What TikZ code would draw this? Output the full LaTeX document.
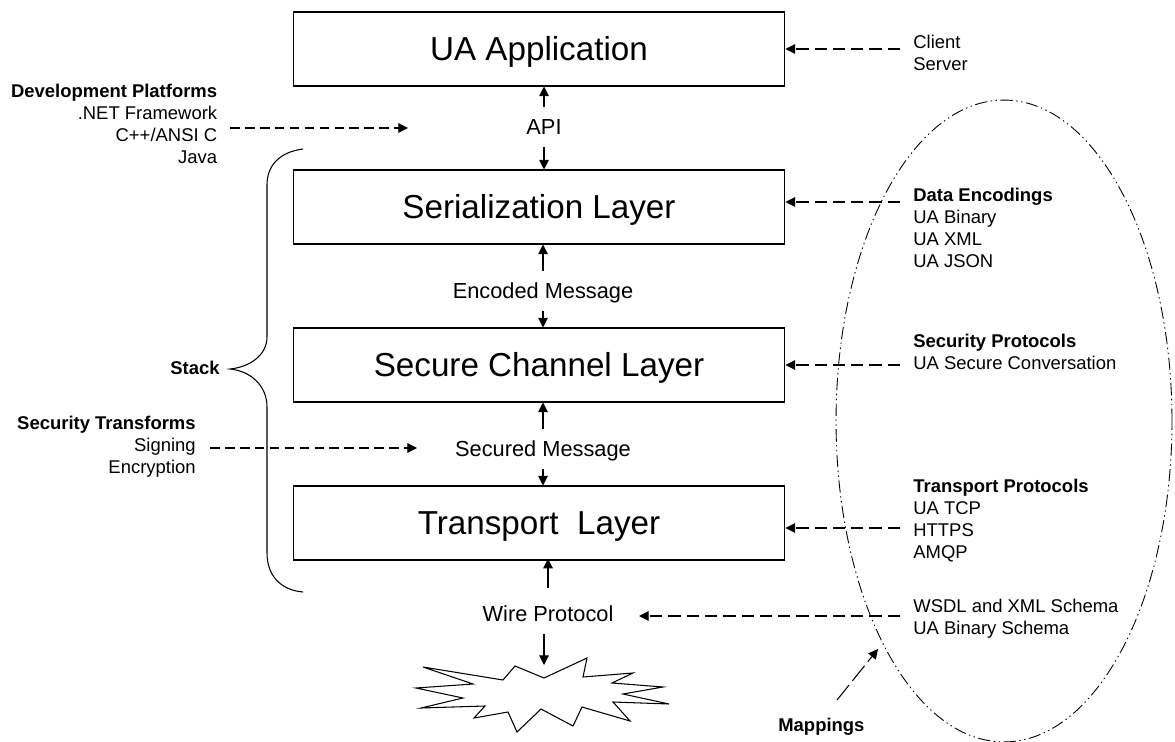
\documentclass[tikz,border=0pt]{standalone}
\usepackage{fontspec}
\setmainfont{Liberation Sans}
\usetikzlibrary{arrows.meta}
\tikzset{
  layerbox/.style={draw, line width=0.6pt, minimum width=9.84cm, minimum height=1.48cm, inner sep=0pt, text height=13.6pt, text depth=0pt, font=\fontsize{18.9}{22}\selectfont},
  msglabel/.style={minimum height=0.8cm, inner sep=0pt, text height=9pt, text depth=0pt, font=\fontsize{12.4}{15}\selectfont},
  leftlist/.style={anchor=east, align=right, inner sep=0pt, font=\fontsize{10.5}{12.5}\selectfont},
  rightlist/.style={anchor=west, align=left, inner sep=0pt, font=\fontsize{10.5}{12.5}\selectfont},
  flowarrow/.style={-{Triangle[length=5.5pt,width=5.5pt]}, line width=0.6pt},
  refarrow/.style={-{Triangle[length=5.5pt,width=5.5pt]}, line width=0.6pt, dash pattern=on 7pt off 3.4pt},
  mapoutline/.style={line width=0.5pt, dash pattern=on 7pt off 2pt on 0.8pt off 2pt on 0.8pt off 2pt}
}
\begin{document}
\begin{tikzpicture}[x=0.02cm, y=-0.02cm]
\useasboundingbox (0,0) rectangle (1175,742);
% stack of layers
\node[layerbox] (uaapp) at (539,49) {UA Application};
\node[layerbox] (serial) at (539,207) {Serialization Layer};
\node[layerbox] (secure) at (539,365) {Secure Channel Layer};
\node[layerbox] (transport) at (539,523) {Transport\ \ Layer};
% what passes between them
\node[msglabel] (api) at (544,127) {API};
\node[msglabel] (encoded) at (543,291) {Encoded Message};
\node[msglabel] (secured) at (543,449) {Secured Message};
\node[msglabel] (wire) at (548,614) {Wire Protocol};
\draw[flowarrow] (api.north) -- (uaapp.south -| api.north);
\draw[flowarrow] (api.south) -- (serial.north -| api.south);
\draw[flowarrow] (encoded.north) -- (serial.south -| encoded.north);
\draw[flowarrow] (encoded.south) -- (secure.north -| encoded.south);
\draw[flowarrow] (secured.north) -- (secure.south -| secured.north);
\draw[flowarrow] (secured.south) -- (transport.north -| secured.south);
\draw[flowarrow, shorten <=3pt, shorten >=-1pt] (wire.north) -- (transport.south -| wire.north);
% burst under the wire
\coordinate (burstin) at (544,665);
\draw[flowarrow] (wire.south -| burstin) -- (burstin);
\draw[line width=0.6pt, line join=miter] (423,667) -- (503,680) -- (515,666) -- (544,678) -- (587,658)
  -- (583,677) -- (633,673) -- (612,683) -- (663,687) -- (623,694) -- (669,704) -- (613,702)
  -- (630,721) -- (582,707) -- (573,726) -- (541,709) -- (517,732) -- (508,712) -- (474,718)
  -- (485,706) -- (421,708) -- (463,698) -- (416,688) -- (473,684) -- cycle;
% left hand lists
\node[leftlist] (platforms) at (217.5,124) {\textbf{Development Platforms}\\.NET Framework\\C++/ANSI C\\Java};
\node[leftlist] (transforms) at (196,447) {\textbf{Security Transforms}\\Signing\\Encryption};
\node[leftlist] (stack) at (220,368) {\textbf{Stack}};
\coordinate (platformsout) at (230,128);
\coordinate (apiin) at (408,128);
\coordinate (transformsout) at (210,448);
\coordinate (securedin) at (417,448);
\draw[refarrow, dash pattern=on 5.5pt off 3pt] (platformsout) -- (apiin);
\draw[refarrow, dash pattern=on 5.5pt off 3pt] (transformsout) -- (securedin);
\draw[line width=0.6pt] (303,149) .. controls (280,152) and (267,165) .. (267,185) -- (267,337)
  .. controls (267,355) and (250,367) .. (230,369) .. controls (250,371) and (267,385) .. (267,407)
  -- (267,553) .. controls (267,575) and (280,590) .. (303,592);
% right hand lists
\node[rightlist] (roles) at (913,53) {Client\\Server};
\node[rightlist] (encodings) at (913,228) {\textbf{Data Encodings}\\UA Binary\\UA XML\\UA JSON};
\node[rightlist] (secprotos) at (913,352) {\textbf{Security Protocols}\\UA Secure Conversation};
\node[rightlist] (transprotos) at (913,521) {\textbf{Transport Protocols}\\UA TCP\\HTTPS\\AMQP};
\node[rightlist] (schemas) at (913,619) {WSDL and XML Schema\\UA Binary Schema};
\coordinate (rolesout) at (900,49);
\coordinate (encodingsout) at (900,202);
\coordinate (secprotosout) at (900,365);
\coordinate (transprotosout) at (900,528);
\coordinate (schemasout) at (900,616);
\coordinate (wirein) at (639,616);
\draw[refarrow] (rolesout) -- (uaapp.east |- rolesout);
\draw[refarrow] (encodingsout) -- (serial.east |- encodingsout);
\draw[refarrow] (secprotosout) -- (secure.east |- secprotosout);
\draw[refarrow] (transprotosout) -- (transport.east |- transprotosout);
\draw[refarrow] (schemasout) -- (wirein);
% mappings outline
\draw[mapoutline] (1004,421) circle [x radius=3.36cm, y radius=6.42cm];
\node[rightlist] (mappings) at (778,727) {\textbf{Mappings}};
\coordinate (mapsout) at (837,700);
\coordinate (mapsin) at (878,649);
\draw[refarrow, dash pattern=on 11pt off 3pt] (mapsout) -- (mapsin);
\end{tikzpicture}
\end{document}
